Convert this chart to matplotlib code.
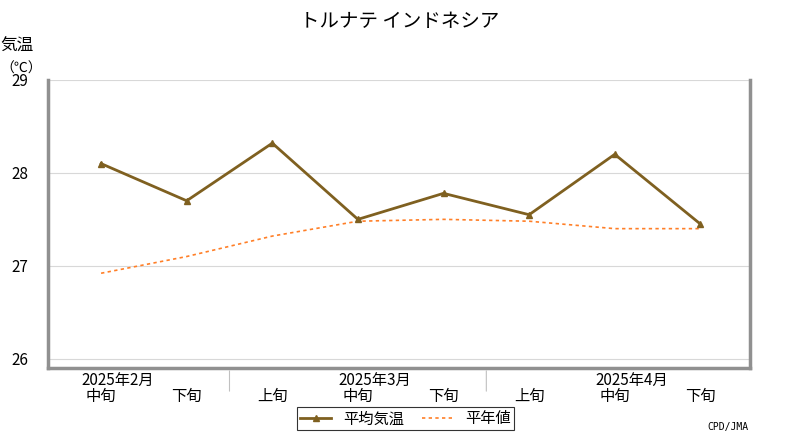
import matplotlib.pyplot as plt
from matplotlib.lines import Line2D

plt.rcParams["font.family"] = "Noto Sans CJK JP"

dekads = ["中旬", "下旬", "上旬", "中旬", "下旬", "上旬", "中旬", "下旬"]
months = ["2025年2月", "2025年3月", "2025年4月"]
month_pos = [0.2, 3.2, 6.2]
month_sep = [1.5, 4.5]
mean_temp = [28.10, 27.70, 28.32, 27.50, 27.78, 27.55, 28.20, 27.45]
normal = [26.92, 27.10, 27.32, 27.48, 27.50, 27.48, 27.40, 27.40]
yticks = [26, 27, 28, 29]

fig = plt.figure(figsize=(8, 4.4), dpi=100)
ax = fig.add_axes([0.06, 0.1636, 0.8775, 0.6546])
x = range(len(dekads))

for y in yticks:
    ax.axhline(y, color="#d8d8d8", lw=0.8, zorder=0)
ax.plot(x, normal, color="#ff7f27", ls=(0, (2, 2)), lw=1.2, zorder=2)
ax.plot(x, mean_temp, color="#7f6020", lw=2, marker="^", ms=5, zorder=3)

ax.set_xlim(-0.62, 7.58)
ax.set_ylim(25.9, 29)
ax.set_yticks(yticks)
ax.set_yticklabels([str(v) for v in yticks], fontsize=11)
ax.set_xticks(list(x))
ax.set_xticklabels(dekads, fontsize=11)
ax.tick_params(length=0, pad=14)

# month labels sit above the dekad labels
for xm, m in zip(month_pos, months):
    ax.annotate(m, (xm, 0), xycoords=("data", "axes fraction"),
                xytext=(0, -3), textcoords="offset points", ha="center", va="top",
                fontsize=11)
for xs in month_sep:
    ax.annotate("", (xs, 0), xycoords=("data", "axes fraction"),
                xytext=(xs, -0.09), textcoords=("data", "axes fraction"),
                arrowprops=dict(arrowstyle="-", color="#c0c0c0", lw=0.8))

ax.spines["top"].set_visible(False)
for s in ["left", "right", "bottom"]:
    ax.spines[s].set_color("#909090")
    ax.spines[s].set_linewidth(2.5)

fig.text(0.5, 0.952, "トルナテ インドネシア", ha="center", va="center", fontsize=14)
fig.text(0.0, 0.895, "気温", ha="left", va="center", fontsize=12)
fig.text(0.0, 0.845, "（℃）", ha="left", va="center", fontsize=10)
fig.text(0.935, 0.03, "CPD/JMA", ha="right", va="center", fontsize=7,
         family="DejaVu Sans Mono")

handles = [Line2D([], [], color="#7f6020", lw=2, marker="^", ms=5),
           Line2D([], [], color="#ff7f27", ls=(0, (2, 2)), lw=1.2)]
leg = fig.legend(handles, ["平均気温", "平年値"], loc="center", ncol=2,
                 bbox_to_anchor=(0.507, 0.048), fontsize=11, frameon=True,
                 fancybox=False, edgecolor="black", handlelength=2,
                 borderpad=0.2, columnspacing=1.2)
leg.get_frame().set_linewidth(0.8)

fig.savefig("out.png", dpi=100)
